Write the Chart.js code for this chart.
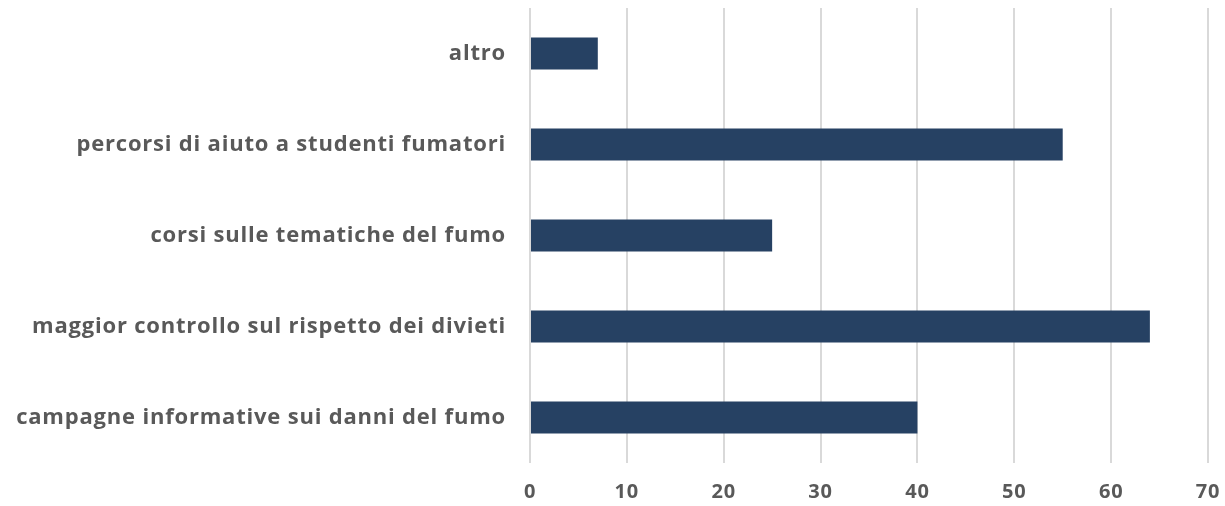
<!DOCTYPE html>
<html>
<head>
<meta charset="utf-8">
<script src="https://cdn.jsdelivr.net/npm/chart.js@4/dist/chart.umd.min.js"></script>
<style>
  html, body { margin: 0; padding: 0; background: #ffffff; }
  #wrap { width: 1225px; height: 506px; }
</style>
</head>
<body>
<div id="wrap"><canvas id="chart" width="1225" height="506"></canvas></div>
<script>
const categories = [
  'altro',
  'percorsi di aiuto a studenti fumatori',
  'corsi sulle tematiche del fumo',
  'maggior controllo sul rispetto dei divieti',
  'campagne informative sui danni del fumo'
];
const values = [7, 55, 25, 64, 40];
const xTicks = [0, 10, 20, 30, 40, 50, 60, 70];

const textColor = '#595959';
const gridColor = '#d9d9d9';
const barColor = '#264163';
const fontFamily = '"Open Sans", Lato, sans-serif';

// The original labels are a bit wider than Open Sans, so space the letters a little.
const letterSpacingPlugin = {
  id: 'letterSpacing',
  beforeInit: (chart) => { chart.ctx.letterSpacing = '0.8px'; },
  beforeDraw: (chart) => { chart.ctx.letterSpacing = '0.8px'; }
};

const config = {
  type: 'bar',
  data: {
    labels: categories,
    datasets: [{
      data: values,
      backgroundColor: barColor,
      borderWidth: 0,
      categoryPercentage: 1,
      barPercentage: 0.352
    }]
  },
  options: {
    indexAxis: 'y',
    responsive: false,
    animation: false,
    layout: {
      padding: {top: 8, right: 17, left: 0, bottom: 0}
    },
    plugins: {
      legend: {display: false},
      tooltip: {enabled: false}
    },
    scales: {
      x: {
        min: 0,
        max: 70,
        afterBuildTicks: (scale) => {
          scale.ticks = xTicks.map(v => ({value: v}));
        },
        ticks: {
          color: textColor,
          padding: 17,
          font: {family: fontFamily, size: 20, weight: 'bold'}
        },
        grid: {
          color: gridColor,
          lineWidth: 2,
          drawTicks: false
        },
        border: {display: false},
        afterFit: (scale) => {
          scale.height = 43;
          scale.paddingLeft = 0;
          scale.paddingRight = 0;
        }
      },
      y: {
        ticks: {
          color: textColor,
          padding: 24,
          font: {family: fontFamily, size: 22, weight: 'bold'}
        },
        grid: {display: false, drawTicks: false},
        border: {display: false},
        afterFit: (scale) => {
          scale.width = 530;
          scale.paddingTop = 0;
          scale.paddingBottom = 0;
        }
      }
    }
  },
  plugins: [letterSpacingPlugin]
};

new Chart(document.getElementById('chart'), config);
</script>
</body>
</html>
